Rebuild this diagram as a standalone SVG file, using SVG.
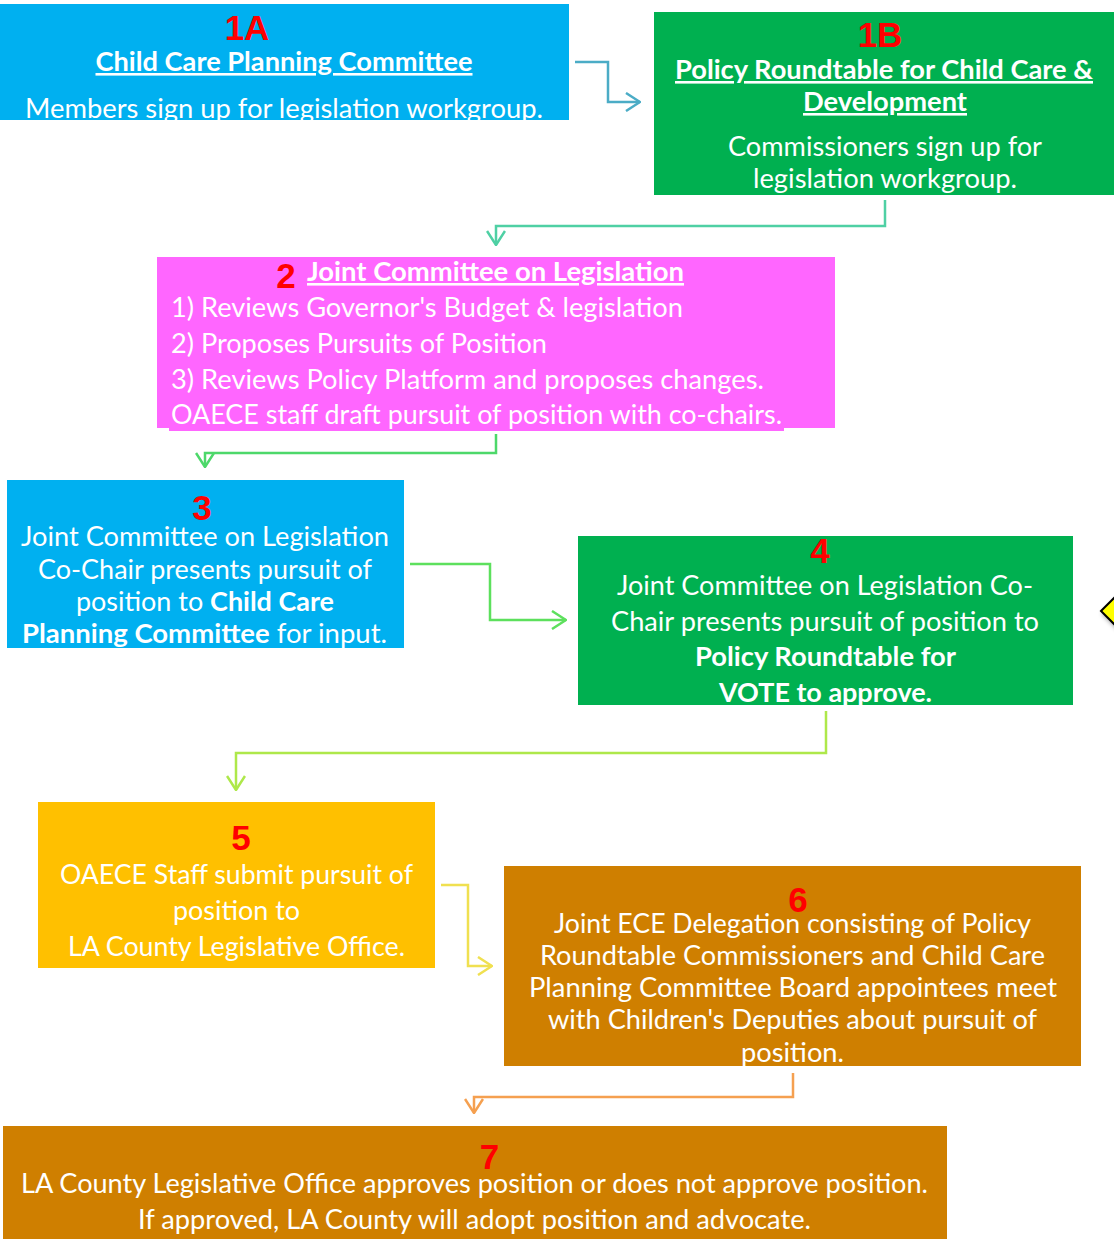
<svg xmlns="http://www.w3.org/2000/svg" width="1114" height="1239" viewBox="0 0 1114 1239">
<style>
.t{font-family:Lato,"Open Sans","Liberation Sans",sans-serif;font-size:26px;fill:#fff}
.b{font-weight:bold}
.u{text-decoration:underline}
.n{font-family:"Liberation Sans",Arial,sans-serif;font-weight:bold;font-size:35px;fill:#FF0000;text-anchor:middle}
.c{text-anchor:middle}
.con{fill:none;stroke-width:2.5}
</style>
<defs>
<marker id="m1" markerUnits="userSpaceOnUse" viewBox="0 0 16 20" refX="15" refY="10" markerWidth="16" markerHeight="20" orient="auto"><path d="M1,1 L15,10 L1,19" fill="none" stroke="#4BACC6" stroke-width="2.5"/></marker>
<marker id="m2" markerUnits="userSpaceOnUse" viewBox="0 0 16 20" refX="15" refY="10" markerWidth="16" markerHeight="20" orient="auto"><path d="M1,1 L15,10 L1,19" fill="none" stroke="#4FD0A4" stroke-width="2.5"/></marker>
<marker id="m3" markerUnits="userSpaceOnUse" viewBox="0 0 16 20" refX="15" refY="10" markerWidth="16" markerHeight="20" orient="auto"><path d="M1,1 L15,10 L1,19" fill="none" stroke="#4DD86A" stroke-width="2.5"/></marker>
<marker id="m4" markerUnits="userSpaceOnUse" viewBox="0 0 16 20" refX="15" refY="10" markerWidth="16" markerHeight="20" orient="auto"><path d="M1,1 L15,10 L1,19" fill="none" stroke="#5DE05D" stroke-width="2.5"/></marker>
<marker id="m5" markerUnits="userSpaceOnUse" viewBox="0 0 16 20" refX="15" refY="10" markerWidth="16" markerHeight="20" orient="auto"><path d="M1,1 L15,10 L1,19" fill="none" stroke="#AEE84A" stroke-width="2.5"/></marker>
<marker id="m6" markerUnits="userSpaceOnUse" viewBox="0 0 16 20" refX="15" refY="10" markerWidth="16" markerHeight="20" orient="auto"><path d="M1,1 L15,10 L1,19" fill="none" stroke="#F0E050" stroke-width="2.5"/></marker>
<marker id="m7" markerUnits="userSpaceOnUse" viewBox="0 0 16 20" refX="15" refY="10" markerWidth="16" markerHeight="20" orient="auto"><path d="M1,1 L15,10 L1,19" fill="none" stroke="#F5A050" stroke-width="2.5"/></marker>
<filter id="sh" x="-50%" y="-50%" width="200%" height="200%"><feDropShadow dx="2" dy="3" stdDeviation="2" flood-color="#000" flood-opacity="0.35"/></filter>
</defs>
<rect width="1114" height="1239" fill="#fff"/>

<g id="connectors">
<path class="con" stroke="#4BACC6" d="M575,62 H608 V102 H640" marker-end="url(#m1)"/>
<path class="con" stroke="#4FD0A4" d="M885,200 V226 H496 V245" marker-end="url(#m2)"/>
<path class="con" stroke="#4DD86A" d="M496,434 V453 H205 V467" marker-end="url(#m3)"/>
<path class="con" stroke="#5DE05D" d="M410,564 H490 V620 H566" marker-end="url(#m4)"/>
<path class="con" stroke="#AEE84A" d="M826,711 V753 H236 V790" marker-end="url(#m5)"/>
<path class="con" stroke="#F0E050" d="M441,885 H468 V966 H492" marker-end="url(#m6)"/>
<path class="con" stroke="#F5A050" d="M793,1073 V1097 H474 V1113" marker-end="url(#m7)"/>
</g>

<g id="node1A">
<rect x="0" y="4" width="569" height="116" fill="#00B0F0"/>
<text class="n" x="247" y="40">1A</text>
<text class="t b u c" x="284" y="71" textLength="377" lengthAdjust="spacingAndGlyphs">Child Care Planning Committee</text>
<text class="t c" x="284" y="118" textLength="518" lengthAdjust="spacingAndGlyphs">Members sign up for legislation workgroup.</text>
</g>

<g id="node1B">
<rect x="654" y="12" width="460" height="183" fill="#00B050"/>
<text class="n" x="880" y="47">1B</text>
<text class="t b u c" x="884" y="79" textLength="418" lengthAdjust="spacingAndGlyphs">Policy Roundtable for Child Care &amp;</text>
<text class="t b u c" x="885" y="111" textLength="164" lengthAdjust="spacingAndGlyphs">Development</text>
<text class="t c" x="885" y="156" textLength="314" lengthAdjust="spacingAndGlyphs">Commissioners sign up for</text>
<text class="t c" x="885" y="188" textLength="264" lengthAdjust="spacingAndGlyphs">legislation workgroup.</text>
</g>

<g id="node2">
<rect x="157" y="257" width="678" height="171" fill="#FF66FF"/>
<rect x="169" y="404" width="615" height="27" fill="#FF66FF"/>
<text class="n" x="286" y="288">2</text>
<text class="t b u" x="307" y="281" textLength="377" lengthAdjust="spacingAndGlyphs">Joint Committee on Legislation</text>
<text class="t" x="171" y="317" textLength="512" lengthAdjust="spacingAndGlyphs">1) Reviews Governor's Budget &amp; legislation</text>
<text class="t" x="171" y="353" textLength="376" lengthAdjust="spacingAndGlyphs">2) Proposes Pursuits of Position</text>
<text class="t" x="171" y="389" textLength="593" lengthAdjust="spacingAndGlyphs">3) Reviews Policy Platform and proposes changes.</text>
<text class="t" x="171" y="424" textLength="611" lengthAdjust="spacingAndGlyphs">OAECE staff draft pursuit of position with co-chairs.</text>
</g>

<g id="node3">
<rect x="7" y="480" width="397" height="168" fill="#00B0F0"/>
<text class="n" x="202" y="520">3</text>
<text class="t c" x="205" y="546" textLength="368" lengthAdjust="spacingAndGlyphs">Joint Committee on Legislation</text>
<text class="t c" x="205" y="579" textLength="334" lengthAdjust="spacingAndGlyphs">Co-Chair presents pursuit of</text>
<text class="t c" x="205" y="611" textLength="258" lengthAdjust="spacingAndGlyphs">position to <tspan class="b">Child Care</tspan></text>
<text class="t c" x="204.5" y="643" textLength="365" lengthAdjust="spacingAndGlyphs"><tspan class="b">Planning Committee</tspan> for input.</text>
</g>

<g id="node4">
<rect x="578" y="536" width="495" height="169" fill="#00B050"/>
<text class="n" x="820" y="563">4</text>
<text class="t c" x="825" y="595" textLength="416" lengthAdjust="spacingAndGlyphs">Joint Committee on Legislation Co-</text>
<text class="t c" x="825" y="631" textLength="428" lengthAdjust="spacingAndGlyphs">Chair presents pursuit of position to</text>
<text class="t b c" x="825.5" y="666" textLength="261" lengthAdjust="spacingAndGlyphs">Policy Roundtable for</text>
<text class="t b c" x="825.5" y="702" textLength="213" lengthAdjust="spacingAndGlyphs">VOTE to approve.</text>
</g>

<g id="node5">
<rect x="38" y="802" width="397" height="166" fill="#FFC000"/>
<text class="n" x="241" y="850">5</text>
<text class="t c" x="236.5" y="884" textLength="353" lengthAdjust="spacingAndGlyphs">OAECE Staff submit pursuit of</text>
<text class="t c" x="236.5" y="920" textLength="127" lengthAdjust="spacingAndGlyphs">position to</text>
<text class="t c" x="236.5" y="956" textLength="337" lengthAdjust="spacingAndGlyphs">LA County Legislative Office.</text>
</g>

<g id="node6">
<rect x="504" y="866" width="577" height="200" fill="#CF7F00"/>
<text class="n" x="798" y="912">6</text>
<text class="t c" x="792.5" y="933" textLength="477" lengthAdjust="spacingAndGlyphs">Joint ECE Delegation consisting of Policy</text>
<text class="t c" x="792.5" y="965" textLength="505" lengthAdjust="spacingAndGlyphs">Roundtable Commissioners and Child Care</text>
<text class="t c" x="793" y="997" textLength="528" lengthAdjust="spacingAndGlyphs">Planning Committee Board appointees meet</text>
<text class="t c" x="792.5" y="1029" textLength="489" lengthAdjust="spacingAndGlyphs">with Children's Deputies about pursuit of</text>
<text class="t c" x="792.5" y="1062" textLength="103" lengthAdjust="spacingAndGlyphs">position.</text>
</g>

<g id="node7">
<rect x="3" y="1126" width="944" height="113" fill="#CF7F00"/>
<text class="n" x="489.5" y="1169">7</text>
<text class="t c" x="474.5" y="1193" textLength="907" lengthAdjust="spacingAndGlyphs">LA County Legislative Office approves position or does not approve position.</text>
<text class="t c" x="474.5" y="1229" textLength="673" lengthAdjust="spacingAndGlyphs">If approved, LA County will adopt position and advocate.</text>
</g>

<g id="diamond">
<path d="M1101,611 L1121,591 L1141,611 L1121,631 Z" fill="#FFFF00" stroke="#000" stroke-width="2" filter="url(#sh)"/>
</g>
</svg>
